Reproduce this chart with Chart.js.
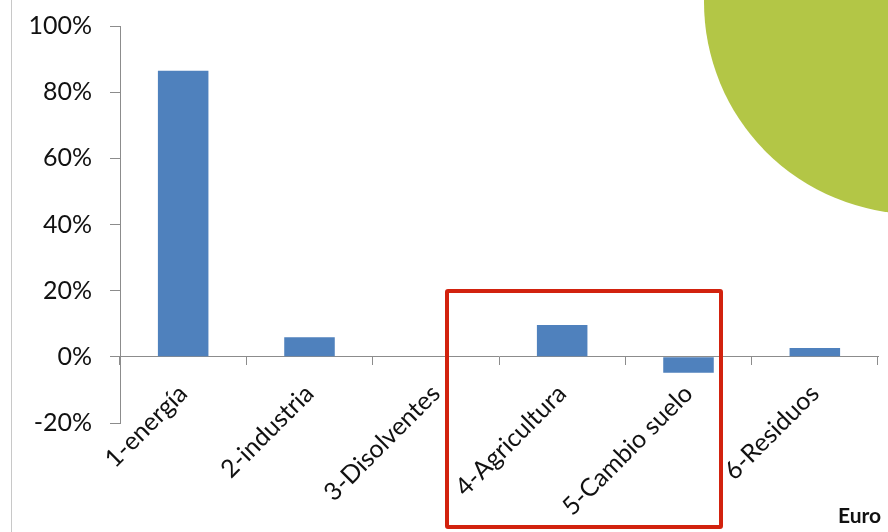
<!DOCTYPE html>
<html>
<head>
<meta charset="utf-8">
<script src="https://cdn.jsdelivr.net/npm/chart.js@4/dist/chart.umd.min.js"></script>
<style>
  html, body { margin: 0; padding: 0; background: #fff; }
  #wrap { position: relative; width: 888px; height: 532px; overflow: hidden; }
  #leftLine { position: absolute; left: 11px; top: 0; width: 1px; height: 532px; background: #c8c8c8; }
  #circle { position: absolute; left: 704px; top: -210px; width: 424px; height: 424px; border-radius: 50%; background: #b3c646; }
  #box { position: absolute; left: 445px; top: 289px; width: 270px; height: 232px; border: 4px solid #d2220e; border-radius: 3px; }
  #euro { position: absolute; left: 838px; top: 502px; font: bold 21px Lato, sans-serif; color: #111; white-space: nowrap; }
  canvas { position: absolute; left: 0; top: 0; }
</style>
</head>
<body>
<div id="wrap">
  <div id="circle"></div>
  <div id="leftLine"></div>
  <canvas id="chart" width="888" height="532"></canvas>
  <div id="box"></div>
  <div id="euro">Euro</div>
</div>
<script>
const categories = ['1-energía', '2-industria', '3-Disolventes', '4-Agricultura', '5-Cambio suelo', '6-Residuos'];
const shares = [86.5, 5.9, 0, 9.6, -4.8, 2.7];
const yTicks = [-20, 0, 20, 40, 60, 80, 100];

(function () {
    const canvas = document.getElementById('chart');

    new Chart(canvas, {
        type: 'bar',
        data: {
            labels: categories,
            datasets: [{
                data: shares,
                backgroundColor: '#4f81bd',
                categoryPercentage: 1,
                barPercentage: 0.4
            }]
        },
        options: {
            responsive: false,
            animation: false,
            layout: { padding: { left: 12, top: 26, right: 10, bottom: 109 } },
            plugins: {
                legend: { display: false },
                tooltip: { enabled: false }
            },
            scales: {
                x: {
                    position: { y: 0 },
                    border: { color: '#8c8c8c', width: 1 },
                    grid: { drawOnChartArea: false, tickLength: 8, color: '#8c8c8c', offset: true },
                    ticks: {
                        minRotation: 45,
                        maxRotation: 45,
                        padding: 14,
                        color: '#111',
                        font: { family: 'Lato', size: 25 }
                    }
                },
                y: {
                    min: -20,
                    max: 100,
                    afterFit: function (scale) {
                        scale.width = 108;
                        // label gap shouldn't push the plot area down
                        scale.paddingTop = 15;
                        scale.paddingBottom = 15;
                    },
                    afterBuildTicks: function (scale) {
                        scale.ticks = yTicks.map(function (v) { return { value: v }; });
                    },
                    border: { color: '#8c8c8c', width: 1 },
                    grid: { drawOnChartArea: false, tickLength: 10, color: '#8c8c8c' },
                    ticks: {
                        padding: 18,
                        color: '#111',
                        font: { family: 'Lato', size: 25 },
                        callback: function (v) { return v + '%'; }
                    }
                }
            }
        }
    });
})();
</script>
</body>
</html>
